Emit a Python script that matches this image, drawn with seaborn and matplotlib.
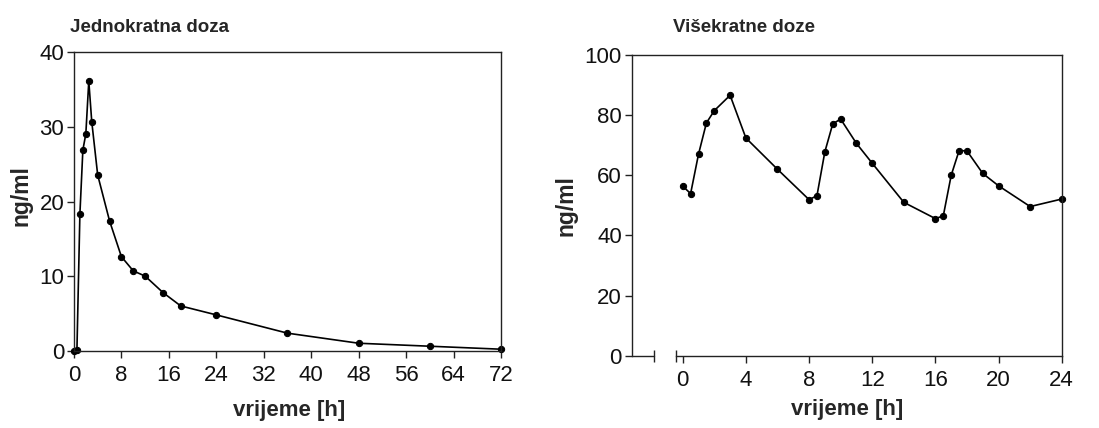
import numpy as np
import pandas as pd
import matplotlib
matplotlib.use("Agg")
import matplotlib.pyplot as plt
import seaborn as sns

# single dose (left panel)
single_time = [0, 0.5, 1, 1.5, 2, 2.5, 3, 4, 6, 8, 10, 12, 15, 18, 24, 36, 48, 60, 72]
single_conc = [0, 0.1, 18.3, 26.9, 29.05, 36.15, 30.7, 23.55, 17.4, 12.6, 10.7, 10.0,
               7.8, 6.0, 4.8, 2.35, 1.0, 0.6, 0.2]

# multiple doses (right panel)
multi_time = [0, 0.5, 1, 1.5, 2, 3, 4, 6, 8, 8.5, 9, 9.5, 10, 11, 12, 14, 16, 16.5,
              17, 17.5, 18, 19, 20, 22, 24]
multi_conc = [56.4, 53.9, 67.0, 77.4, 81.5, 86.6, 72.4, 62.0, 51.9, 53.2, 67.8, 77.1,
              78.7, 70.6, 64.0, 51.0, 45.6, 46.5, 60.0, 68.2, 68.1, 60.6, 56.5, 49.6, 52.1]

left_xticks = [0, 8, 16, 24, 32, 40, 48, 56, 64, 72]
left_yticks = [0, 10, 20, 30, 40]
right_xticks = [0, 4, 8, 12, 16, 20, 24]
right_yticks = [0, 20, 40, 60, 80, 100]

sns.set_style("ticks")
plt.rcParams['font.family'] = ['Liberation Sans', 'DejaVu Sans']

fig = plt.figure(figsize=(10.99, 4.28), dpi=100)
ax1 = fig.add_axes([0.0673, 0.1806, 0.3886, 0.6972])
ax2 = fig.add_axes([0.5748, 0.1689, 0.3913, 0.7026])

line_kw = dict(color='black', linewidth=1.2, marker='o', markersize=4.5,
               markeredgecolor='black', markerfacecolor='black', clip_on=False)

df1 = pd.DataFrame({'t': single_time, 'c': single_conc})
df2 = pd.DataFrame({'t': multi_time, 'c': multi_conc})
sns.lineplot(data=df1, x='t', y='c', ax=ax1, **line_kw)
sns.lineplot(data=df2, x='t', y='c', ax=ax2, **line_kw)

for ax in (ax1, ax2):
    for sp in ax.spines.values():
        sp.set_color('#222222')
        sp.set_linewidth(1.0)
    ax.tick_params(axis='both', direction='out', length=5, width=1.0,
                   color='#222222', labelsize=16, labelcolor='#111111')
    ax.tick_params(axis='x', pad=5)
    ax.tick_params(axis='y', pad=2)
    ax.set_xlabel('vrijeme [h]', fontsize=16, fontweight='bold')
    ax.set_ylabel('ng/ml', fontsize=16.5, fontweight='bold')

# left panel
ax1.set_xlim(0, 72)
ax1.set_ylim(0, 40)
ax1.set_xticks(left_xticks)
ax1.set_yticks(left_yticks)
ax1.yaxis.set_label_coords(-0.098, 0.52)
ax1.xaxis.set_label_coords(0.503, -0.165)

# right panel with broken x axis
ax2.set_xlim(-3.23, 24)
ax2.set_ylim(0, 100)
ax2.set_xticks(right_xticks)
ax2.set_yticks(right_yticks)
ax2.spines['bottom'].set_bounds(-0.42, 24)
ax2.plot([-3.23, -1.81], [0, 0], color='#222222', linewidth=1.0, clip_on=False)
ax2.plot([-1.81, -0.42], [0, 0], linestyle='none', marker='|', markersize=8,
         markeredgewidth=1.0, color='#222222', clip_on=False)
ax2.yaxis.set_label_coords(-0.125, 0.5)
ax2.xaxis.set_label_coords(0.50, -0.145)

fig.text(0.0637, 0.936, 'Jednokratna doza', fontsize=13.5, fontweight='bold', va='center')
fig.text(0.6124, 0.936, 'Višekratne doze', fontsize=13.5, fontweight='bold', va='center')

fig.savefig('out.png', dpi=100)
